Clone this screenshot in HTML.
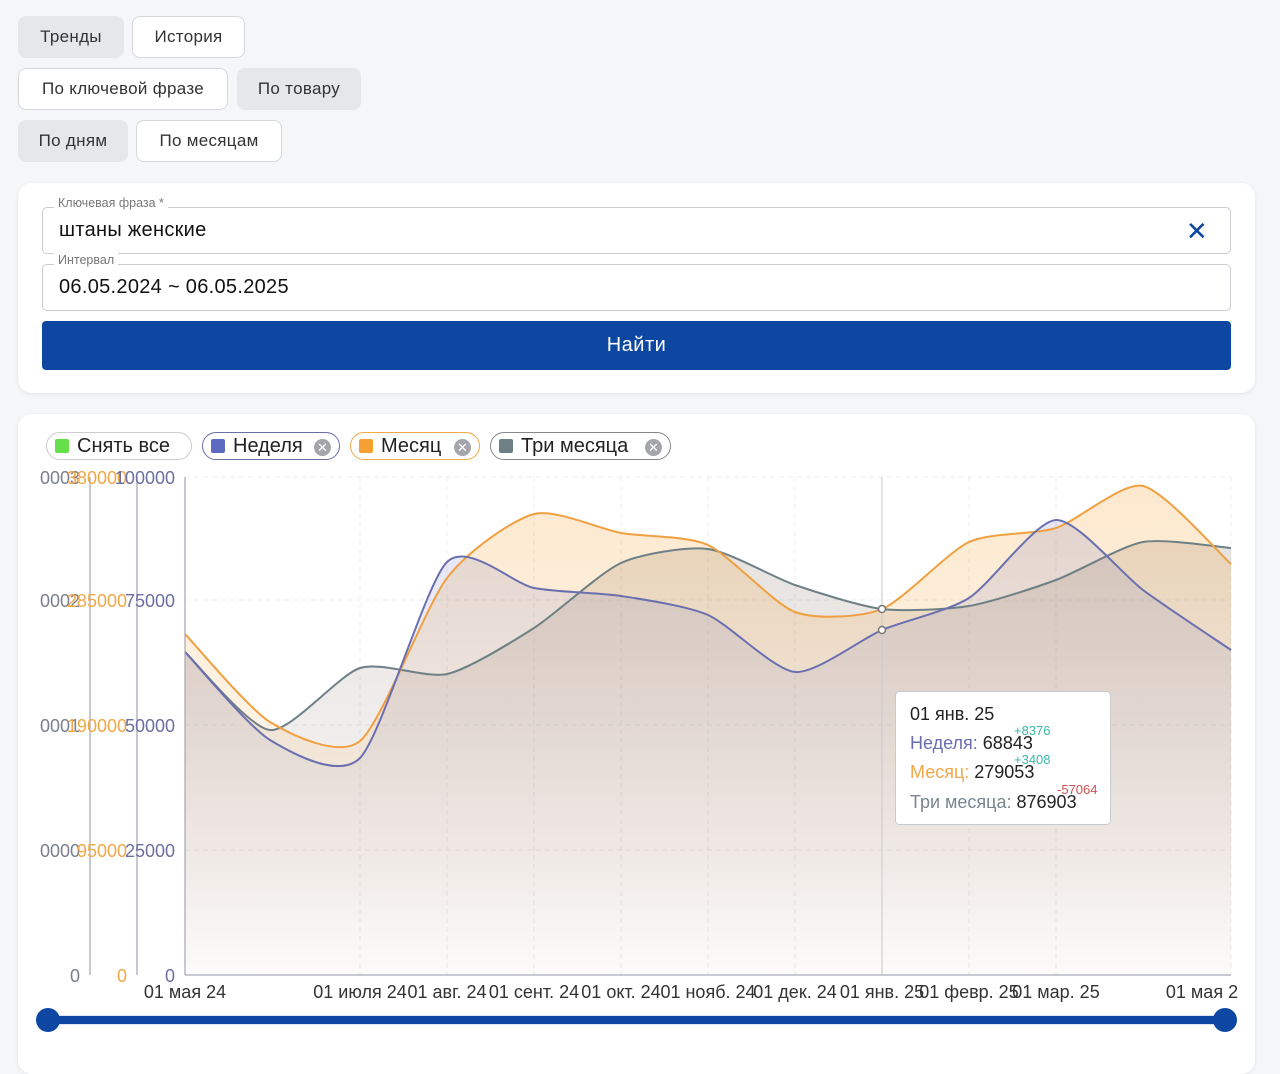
<!DOCTYPE html>
<html><head><meta charset="utf-8">
<style>
*{box-sizing:border-box;margin:0;padding:0}
body{width:1280px;height:1044px;overflow:hidden;background:#f5f6f8;font-family:"Liberation Sans","DejaVu Sans",sans-serif;color:#222;position:relative}
.b{position:absolute;height:42px;border-radius:8px;font-size:17px;display:flex;align-items:center;justify-content:center;letter-spacing:.3px;color:#333}
.g{background:#e5e7ea}
.w{background:#fff;border:1px solid #d6d8dc}
.card{position:absolute;left:18px;width:1237px;background:#fff;border-radius:14px;box-shadow:0 1px 4px rgba(0,0,0,.08)}
.inp{position:absolute;left:42px;width:1189px;height:47px;border:1px solid #c9ccd1;border-radius:5px;font-size:20px;padding-left:16px;display:flex;align-items:center;color:#111;letter-spacing:.3px}
.lab{position:absolute;left:54px;font-size:12.5px;color:#777;background:#fff;padding:0 4px}
.chip{position:absolute;top:432px;height:28px;border-radius:14px;font-size:20px;display:flex;align-items:center;padding-left:8px;color:#222;background:#fff}
.sq{width:14px;height:14px;border-radius:2px;margin-right:8px}
.x{position:absolute;right:8px;top:6px;width:17px;height:17px;border-radius:50%;background:#a3a5ab;color:#fff;font-size:13px;line-height:17px;text-align:center}
</style></head><body>
<div class="b g" style="left:18px;top:16px;width:106px">Тренды</div>
<div class="b w" style="left:132px;top:16px;width:113px">История</div>
<div class="b w" style="left:18px;top:68px;width:210px">По ключевой фразе</div>
<div class="b g" style="left:237px;top:68px;width:124px">По товару</div>
<div class="b g" style="left:18px;top:120px;width:110px">По дням</div>
<div class="b w" style="left:136px;top:120px;width:146px">По месяцам</div>

<div class="card" style="top:183px;height:210px"></div>
<div class="inp" style="top:207px">штаны женские<span style="position:absolute;right:22px;top:8px;font-size:26px;color:#0d47a1">✕</span></div>
<div class="lab" style="top:196px">Ключевая фраза *</div>
<div class="inp" style="top:264px">06.05.2024 ~ 06.05.2025</div>
<div class="lab" style="top:253px">Интервал</div>
<div style="position:absolute;left:42px;top:321px;width:1189px;height:49px;background:#0d47a1;border-radius:4px;color:#fff;font-size:20px;display:flex;align-items:center;justify-content:center;letter-spacing:.5px">Найти</div>

<div class="card" style="top:414px;height:660px"></div>
<div class="chip" style="left:46px;width:146px;border:1px solid #ccc"><div class="sq" style="background:#66e04a"></div>Снять все</div>
<div class="chip" style="left:202px;width:138px;border:1.5px solid #6a6fa8"><div class="sq" style="background:#5c6bc0"></div>Неделя<div class="x">✕</div></div>
<div class="chip" style="left:350px;width:130px;border:1.5px solid #f0a848"><div class="sq" style="background:#f5a030"></div>Месяц<div class="x">✕</div></div>
<div class="chip" style="left:490px;width:181px;border:1.5px solid #888"><div class="sq" style="background:#6e8085"></div>Три месяца<div class="x">✕</div></div>

<svg id="ch" width="1280" height="1044" style="position:absolute;left:0;top:0" font-family="Liberation Sans, sans-serif">
<defs>
<linearGradient id="gw" x1="0" y1="0" x2="0" y2="1"><stop offset="0" stop-color="#7b80c0" stop-opacity=".2"/><stop offset="1" stop-color="#7b80c0" stop-opacity=".01"/></linearGradient>
<linearGradient id="gm" x1="0" y1="0" x2="0" y2="1"><stop offset="0" stop-color="#f5a030" stop-opacity=".24"/><stop offset="1" stop-color="#f5a030" stop-opacity=".01"/></linearGradient>
<linearGradient id="gt" x1="0" y1="0" x2="0" y2="1"><stop offset="0" stop-color="#8a7a70" stop-opacity=".22"/><stop offset="1" stop-color="#8a7a70" stop-opacity=".01"/></linearGradient>
</defs>
<g stroke="#ebecee" stroke-dasharray="5,4" stroke-width="1">
<line x1="185" y1="477" x2="1231" y2="477"/><line x1="185" y1="600" x2="1231" y2="600"/><line x1="185" y1="725" x2="1231" y2="725"/><line x1="185" y1="850" x2="1231" y2="850"/>
<line x1="360" y1="477" x2="360" y2="975"/><line x1="447" y1="477" x2="447" y2="975"/><line x1="534" y1="477" x2="534" y2="975"/><line x1="621" y1="477" x2="621" y2="975"/><line x1="708" y1="477" x2="708" y2="975"/><line x1="795" y1="477" x2="795" y2="975"/><line x1="969" y1="477" x2="969" y2="975"/><line x1="1056" y1="477" x2="1056" y2="975"/><line x1="1231" y1="477" x2="1231" y2="975"/>
</g>
<g id="series"></g>
<line x1="882" y1="477" x2="882" y2="975" stroke="#c8c9cc"/>
<g stroke="#a9abb8" stroke-width="1.3" fill="none">
<line x1="185" y1="477" x2="185" y2="975"/><line x1="137" y1="477" x2="137" y2="975"/><line x1="90" y1="477" x2="90" y2="975"/>
<line x1="185" y1="975" x2="1231" y2="975"/>
</g>
<g font-size="18" text-anchor="end">
<g fill="#7a7f8c"><text x="80" y="484">0003</text><text x="80" y="607">0002</text><text x="80" y="732">0001</text><text x="80" y="857">0000</text><text x="80" y="982">0</text></g>
<g fill="#f0a848"><text x="127" y="484">380000</text><text x="127" y="607">285000</text><text x="127" y="732">190000</text><text x="127" y="857">95000</text><text x="127" y="982">0</text></g>
<g fill="#6a6fa0"><text x="175" y="484">100000</text><text x="175" y="607">75000</text><text x="175" y="732">50000</text><text x="175" y="857">25000</text><text x="175" y="982">0</text></g>
</g>
<g font-size="18" fill="#333" text-anchor="middle">
<text x="185" y="998">01 мая 24</text><text x="360" y="998">01 июля 24</text><text x="447" y="998">01 авг. 24</text><text x="534" y="998">01 сент. 24</text><text x="621" y="998">01 окт. 24</text><text x="708" y="998">01 нояб. 24</text><text x="795" y="998">01 дек. 24</text><text x="882" y="998">01 янв. 25</text><text x="969" y="998">01 февр. 25</text><text x="1056" y="998">01 мар. 25</text><text x="1202" y="998">01 мая 2</text>
</g>
<circle cx="882" cy="609" r="3.5" fill="#fff" stroke="#777" stroke-width="1.5"/>
<circle cx="882" cy="630" r="3.5" fill="#fff" stroke="#777" stroke-width="1.5"/>
<rect x="48" y="1015" width="1177" height="10" rx="5" fill="#dde4ef"/>
<rect x="48" y="1016" width="1177" height="8" fill="#0d47a1"/>
<circle cx="48" cy="1020" r="12" fill="#0d47a1"/><circle cx="1225" cy="1020" r="12" fill="#0d47a1"/>
<rect x="895.5" y="691.5" width="215" height="133" rx="4" fill="#fff" stroke="#c8cacd"/>
<g font-size="18">
<text x="910" y="720" fill="#222">01 янв. 25</text>
<text x="910" y="749" fill="#6a6fb0">Неделя: <tspan fill="#222">68843</tspan></text>
<text x="910" y="778" fill="#f0a848">Месяц: <tspan fill="#222">279053</tspan></text>
<text x="910" y="808" fill="#7a8590">Три месяца: <tspan fill="#222">876903</tspan></text>
</g>
<g font-size="13"><text x="1014" y="735" fill="#3bb8a8">+8376</text><text x="1014" y="764" fill="#3bb8a8">+3408</text><text x="1057" y="794" fill="#d05050">-57064</text></g>
</svg>
<script>
var X=[185,270,360,447,534,621,708,795,882,969,1056,1143,1231];
var S=[
 {c:"#6e8085",f:"url(#gt)",y:[652,730,668,674,628,563,549,585,609,606,580,542,548]},
 {c:"#f0a040",f:"url(#gm)",y:[634,722,741,578,514,533,545,612,609,542,528,486,564]},
 {c:"#6a6fb0",f:"url(#gw)",y:[652,740,758,562,588,596,615,672,630,598,520,590,650]}
];
function path(y){var d="M"+X[0]+","+y[0];for(var i=0;i<X.length-1;i++){var p0=i?i-1:0,p3=i+2<X.length?i+2:i+1;var t=0.12;
var c1x=X[i]+(X[i+1]-X[p0])*t,c1y=y[i]+(y[i+1]-y[p0])*t,c2x=X[i+1]-(X[p3]-X[i])*t,c2y=y[i+1]-(y[p3]-y[i])*t;
d+=" C"+c1x+","+c1y+" "+c2x+","+c2y+" "+X[i+1]+","+y[i+1];}return d;}
var g=document.getElementById("series"),h="";
S.forEach(function(s){var d=path(s.y);h+='<path d="'+d+' L1231,975 L185,975Z" fill="'+s.f+'"/>';});
S.forEach(function(s){h+='<path d="'+path(s.y)+'" fill="none" stroke="'+s.c+'" stroke-width="2"/>';});
g.innerHTML=h;
</script>
</body></html>
